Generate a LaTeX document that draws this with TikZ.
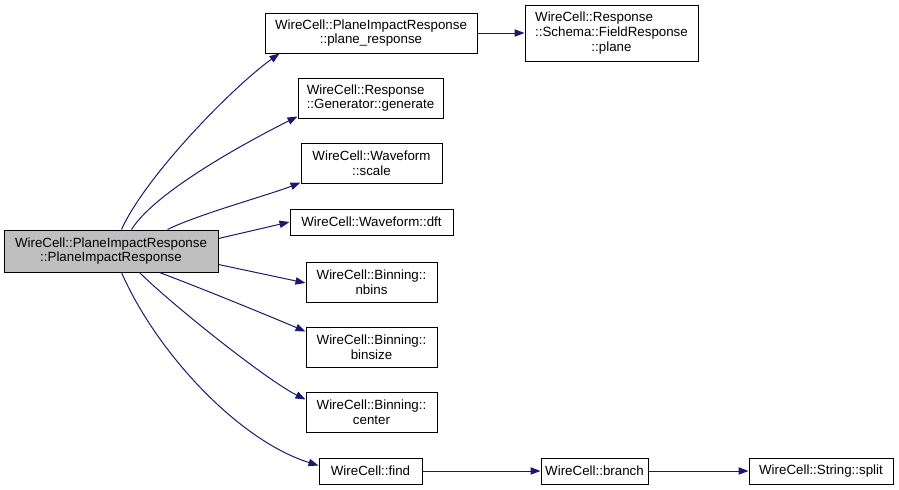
\documentclass[tikz,border=0pt]{standalone}
\usepackage{fontspec}
\setmainfont{Liberation Sans}
\usetikzlibrary{arrows.meta,calc}
\definecolor{navy}{HTML}{191970}
\definecolor{mainfill}{HTML}{BFBFBF}
\tikzset{
  box/.style={draw=black, line width=0.75pt, fill=white, inner sep=0pt, align=center,
    font=\fontsize{10pt}{11pt}\selectfont},
  edge/.style={draw=navy, line width=0.75pt, -{Triangle[length=7.5pt,width=5.5pt]}}
}
\begin{document}
\begin{tikzpicture}[x=0.75pt,y=-0.75pt]
\useasboundingbox (0,0) rectangle (899,489);
\node[box, fill=mainfill, minimum width=160.5pt, minimum height=31.5pt] (main) at (111,251)
  {WireCell::PlaneImpactResponse\\::PlaneImpactResponse};
\node[box, minimum width=159pt, minimum height=30pt] (pr) at (371,33)
  {WireCell::PlaneImpactResponse\\::plane\_response};
\node[box, minimum width=129.75pt, minimum height=42pt] (frp) at (611.5,33)
  {\rlap{WireCell::Response}\phantom{::Schema::FieldResponse}\\::Schema::FieldResponse\\::plane};
\node[box, minimum width=108.75pt, minimum height=30pt] (gen) at (370.5,98)
  {\rlap{WireCell::Response}\phantom{::Generator::generate}\\::Generator::generate};
\node[box, minimum width=105.75pt, minimum height=30pt] (scale) at (371.5,163)
  {WireCell::Waveform\\::scale};
\node[box, minimum width=122.25pt, minimum height=19.5pt] (dft) at (371.5,222)
  {WireCell::Waveform::dft};
\node[box, minimum width=98.25pt, minimum height=30pt] (nbins) at (371.5,282)
  {WireCell::Binning::\\nbins};
\node[box, minimum width=98.25pt, minimum height=30pt] (binsize) at (371.5,347)
  {WireCell::Binning::\\binsize};
\node[box, minimum width=98.25pt, minimum height=30pt] (center) at (371.5,412)
  {WireCell::Binning::\\center};
\node[box, minimum width=77.25pt, minimum height=19.5pt] (find) at (370.5,471)
  {WireCell::find};
\node[box, minimum width=80.25pt, minimum height=19.5pt] (branch) at (594.5,471)
  {WireCell::branch};
\node[box, minimum width=108pt, minimum height=19.5pt] (split) at (821,471)
  {WireCell::String::split};

\draw[edge] ($(main.north west)+(118,0)$) .. controls +(25,-55) and +(-45,32) .. ($(pr.south west)+(15,0)$);
\draw[edge] ($(main.north west)+(128,0)$) .. controls +(25,-40) and +(-40,20) .. ($(gen.south west)+(0,-2)$);
\draw[edge] ($(main.north west)+(164,0)$) .. controls +(30,-15) and +(-30,12) .. ($(scale.south west)+(0,-1)$);
\draw[edge] ($(main.north east)+(0,9)$) -- ($(dft.west)+(0,0)$);
\draw[edge] ($(main.south east)+(0,-8)$) -- ($(nbins.west)+(0,1)$);
\draw[edge] ($(main.south west)+(156,0)$) .. controls +(40,15) and +(-35,-15) .. ($(binsize.north west)+(0,5)$);
\draw[edge] ($(main.south west)+(136,0)$) .. controls +(30,30) and +(-40,-20) .. ($(center.north west)+(0,8)$);
\draw[edge] ($(main.south west)+(118,0)$) .. controls +(35,80) and +(-80,-25) .. ($(find.north west)+(0,8)$);
\draw[edge] (pr.east) -- (frp.west);
\draw[edge] (find.east) -- (branch.west);
\draw[edge] (branch.east) -- (split.west);
\end{tikzpicture}
\end{document}
